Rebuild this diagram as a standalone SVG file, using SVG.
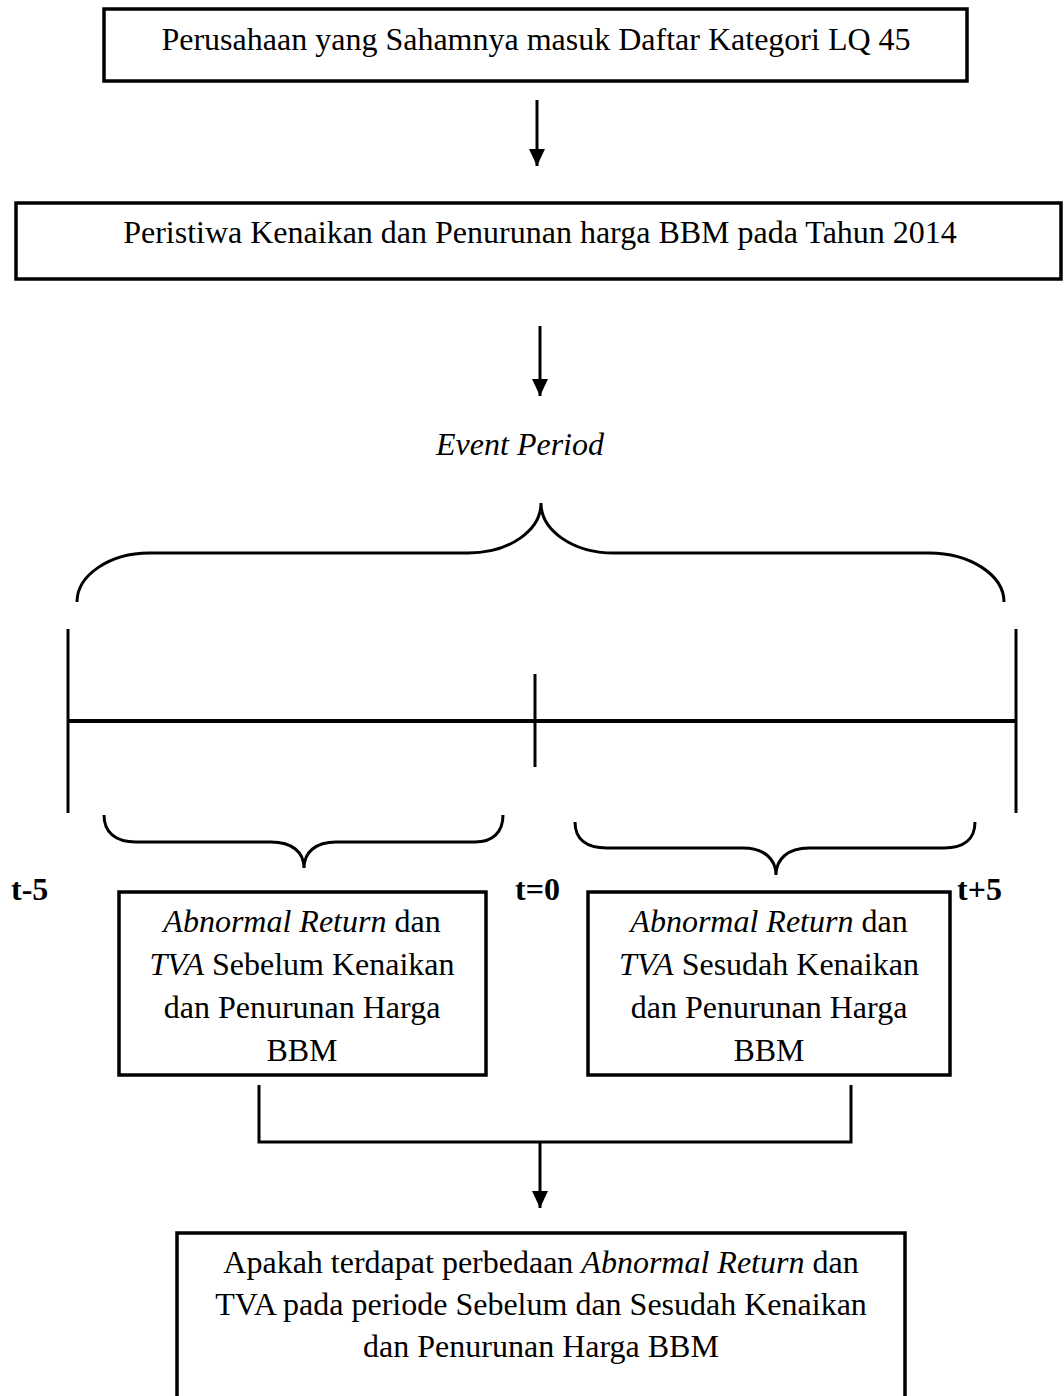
<svg xmlns="http://www.w3.org/2000/svg" width="1064" height="1396" viewBox="0 0 1064 1396">
<style>
  .box { fill: #fff; stroke: #000; stroke-width: 3.5; }
  .t { font-family: "Liberation Serif", "Times New Roman", serif; font-size: 32px; fill: #000; }
  .c { text-anchor: middle; }
  .b { font-weight: bold; }
  .line { fill: none; stroke: #000; stroke-width: 3; }
  .brace { fill: none; stroke: #000; stroke-width: 3; }
</style>
<defs>
  <marker id="ah" markerUnits="userSpaceOnUse" markerWidth="18" markerHeight="18" viewBox="0 0 18 18" refX="17" refY="9" orient="auto">
    <path d="M0,1 L17,9 L0,17 Z" fill="#000"/>
  </marker>
</defs>
<rect width="1064" height="1396" fill="#fff"/>

<g id="node-lq45">
  <rect class="box" x="104" y="9" width="863" height="72"/>
  <text class="t c" x="536" y="50">Perusahaan yang Sahamnya masuk Daftar Kategori LQ 45</text>
</g>

<g id="node-peristiwa">
  <rect class="box" x="16" y="203" width="1045" height="76"/>
  <text class="t c" x="540" y="243">Peristiwa Kenaikan dan Penurunan harga BBM pada Tahun 2014</text>
</g>

<g id="node-event-period">
  <text class="t c" x="520" y="455" font-style="italic">Event Period</text>
  <path class="brace" d="M77,602 C77,575 110,553 149,553 L468,553 C510,553 541,530 541,503 C541,530 572,553 614,553 L929,553 C970,553 1004,575 1004,602"/>
</g>

<g id="node-timeline">
  <line x1="68" y1="629" x2="68" y2="813" stroke="#000" stroke-width="3"/>
  <line x1="1016" y1="629" x2="1016" y2="813" stroke="#000" stroke-width="3"/>
  <line x1="68" y1="721" x2="1016" y2="721" stroke="#000" stroke-width="4"/>
  <line x1="535" y1="674" x2="535" y2="767" stroke="#000" stroke-width="3"/>
  <path class="brace" d="M104,815 C104,832 115,842 136,842 L271,842 C292,842 304,852 304,868 C304,852 316,842 336,842 L475,842 C493,842 503,832 503,815"/>
  <path class="brace" d="M575,822 C575,839 586,848 607,848 L743,848 C764,848 776,859 776,875 C776,859 788,848 809,848 L944,848 C964,848 975,839 975,822"/>
  <text class="t b" x="11" y="900">t-5</text>
  <text class="t b" x="515" y="900">t=0</text>
  <text class="t b" x="957" y="900">t+5</text>
</g>

<g id="node-sebelum">
  <rect class="box" x="119" y="892" width="367" height="183"/>
  <text class="t c" x="302" y="932"><tspan font-style="italic">Abnormal Return</tspan> dan</text>
  <text class="t c" x="302" y="975"><tspan font-style="italic">TVA</tspan> Sebelum Kenaikan</text>
  <text class="t c" x="302" y="1018">dan Penurunan Harga</text>
  <text class="t c" x="302" y="1061">BBM</text>
</g>

<g id="node-sesudah">
  <rect class="box" x="588" y="892" width="362" height="183"/>
  <text class="t c" x="769" y="932"><tspan font-style="italic">Abnormal Return</tspan> dan</text>
  <text class="t c" x="769" y="975"><tspan font-style="italic">TVA</tspan> Sesudah Kenaikan</text>
  <text class="t c" x="769" y="1018">dan Penurunan Harga</text>
  <text class="t c" x="769" y="1061">BBM</text>
</g>

<g id="node-apakah">
  <rect class="box" x="177" y="1233" width="728" height="200"/>
  <text class="t c" x="541" y="1273">Apakah terdapat perbedaan <tspan font-style="italic">Abnormal Return</tspan> dan</text>
  <text class="t c" x="541" y="1315">TVA pada periode Sebelum dan Sesudah Kenaikan</text>
  <text class="t c" x="541" y="1357">dan Penurunan Harga BBM</text>
</g>

<g id="connectors">
  <line class="line" x1="537" y1="100" x2="537" y2="166" marker-end="url(#ah)"/>
  <line class="line" x1="540" y1="326" x2="540" y2="396" marker-end="url(#ah)"/>
  <polyline class="line" points="259,1085 259,1142 851,1142 851,1085"/>
  <line class="line" x1="540" y1="1142" x2="540" y2="1208" marker-end="url(#ah)"/>
</g>
</svg>
